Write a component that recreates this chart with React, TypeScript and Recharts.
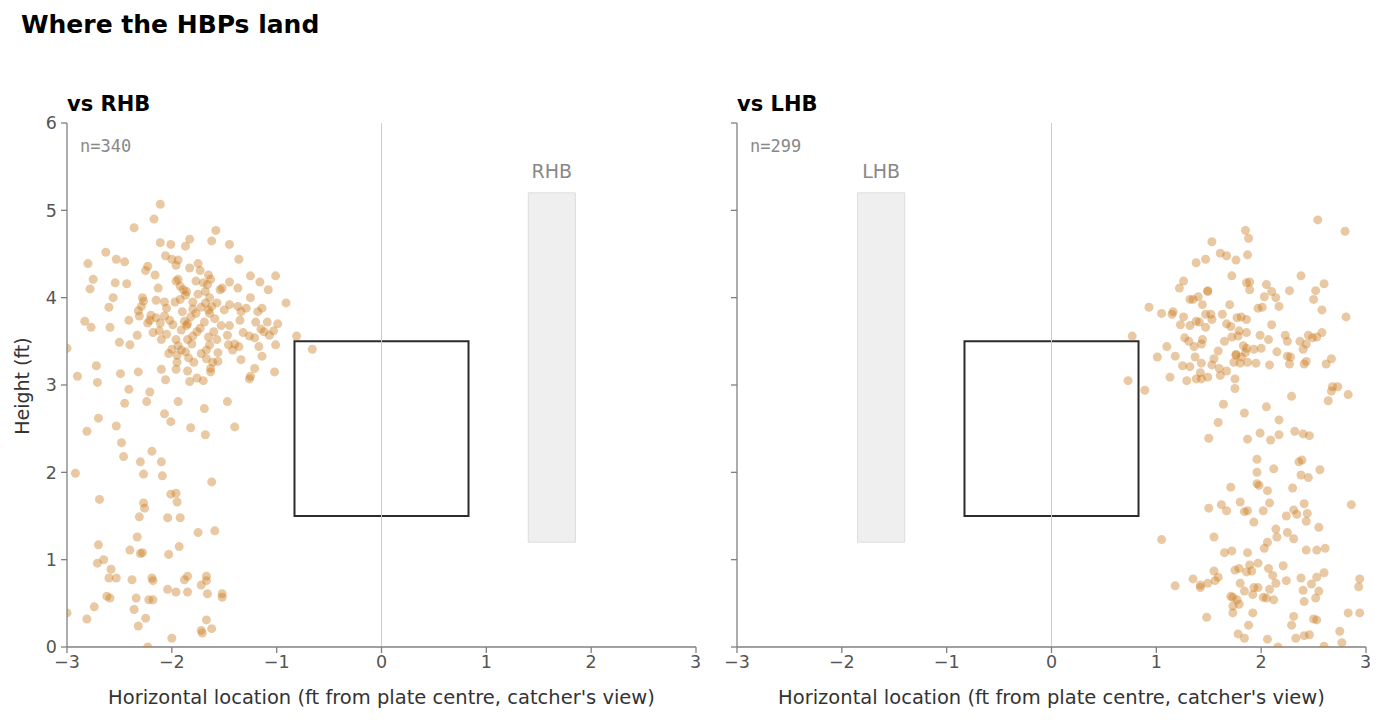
import { ScatterChart, Scatter, XAxis, YAxis, ReferenceArea, ReferenceLine } from "recharts"

const X_TICKS = [-3, -2, -1, 0, 1, 2, 3]
const Y_TICKS = [0, 1, 2, 3, 4, 5, 6]

// strike zone and batter's box (ft)
const ZONE_X = [-0.83, 0.83]
const ZONE_Y = [1.5, 3.5]
const BOX_Y = [1.2, 5.2]
const RHB_BOX_X = [1.4, 1.85]
const LHB_BOX_X = [-1.85, -1.4]

// [horizontal ft, height ft]
const RHB_POINTS: [number, number][] = [
  [-2.11, 5.07], [-2.17, 4.9], [-2.36, 4.8], [-1.58, 4.77], [-1.83, 4.67], [-2.11, 4.63], [-1.45, 4.61], [-1.62, 4.65], [-2.01, 4.61], [-1.87, 4.59],
  [-2.63, 4.52], [-2.06, 4.48], [-2.0, 4.44], [-1.94, 4.43], [-1.36, 4.44], [-2.53, 4.44], [-2.45, 4.41], [-2.23, 4.36], [-2.8, 4.39], [-1.96, 4.37],
  [-1.75, 4.39], [-1.83, 4.34], [-2.25, 4.31], [-2.16, 4.26], [-1.73, 4.31], [-1.65, 4.26], [-1.25, 4.25], [-1.01, 4.25], [-2.75, 4.21], [-1.94, 4.21],
  [-1.63, 4.21], [-1.77, 4.19], [-1.16, 4.18], [-1.45, 4.18], [-2.43, 4.16], [-2.54, 4.17], [-1.7, 4.17], [-1.96, 4.19], [-1.92, 4.13], [-1.66, 4.15],
  [-2.13, 4.11], [-1.52, 4.11], [-2.78, 4.1], [-1.89, 4.09], [-1.86, 4.07], [-1.54, 4.09], [-1.68, 4.07], [-1.87, 4.03], [-1.08, 4.09], [-1.37, 4.11],
  [-1.75, 4.04], [-1.25, 4.0], [-1.64, 4.0], [-2.28, 4.0], [-2.56, 4.0], [-2.15, 3.97], [-1.92, 3.98], [-0.91, 3.94], [-1.97, 3.95], [-2.27, 3.96],
  [-2.07, 3.95], [-1.8, 3.95], [-1.68, 3.94], [-1.57, 3.94], [-1.45, 3.92], [-1.37, 3.9], [-1.62, 3.9], [-2.6, 3.89], [-2.29, 3.9], [-1.72, 3.89],
  [-1.14, 3.88], [-2.05, 3.88], [-1.29, 3.88], [-1.8, 3.87], [-1.5, 3.86], [-1.65, 3.86], [-1.34, 3.84], [-1.18, 3.84], [-1.9, 3.84], [-2.2, 3.8],
  [-1.77, 3.82], [-1.64, 3.82], [-2.07, 3.79], [-2.31, 3.79], [-2.02, 3.74], [-2.15, 3.77], [-2.41, 3.74], [-1.82, 3.78], [-1.88, 3.73], [-1.59, 3.76],
  [-2.83, 3.73], [-1.35, 3.74], [-2.21, 3.74], [-0.99, 3.7], [-2.11, 3.71], [-1.2, 3.72], [-1.09, 3.72], [-1.69, 3.72], [-1.99, 3.69], [-1.85, 3.7],
  [-1.53, 3.68], [-1.45, 3.68], [-2.23, 3.71], [-2.77, 3.66], [-2.59, 3.66], [-1.73, 3.65], [-1.15, 3.64], [-1.91, 3.63], [-1.86, 3.68], [-1.12, 3.61],
  [-1.03, 3.62], [-2.12, 3.62], [-1.76, 3.61], [-1.6, 3.61], [-1.32, 3.6], [-2.05, 3.58], [-1.07, 3.57], [-1.26, 3.56], [-0.81, 3.56], [-1.47, 3.57],
  [-2.33, 3.57], [-1.8, 3.56], [-1.65, 3.55], [-2.1, 3.52], [-1.96, 3.52], [-1.21, 3.54], [-1.85, 3.52], [-1.57, 3.52], [-2.5, 3.49], [-1.81, 3.47],
  [-2.4, 3.46], [-1.64, 3.46], [-1.94, 3.45], [-1.46, 3.46], [-1.4, 3.47], [-2.0, 3.41], [-0.66, 3.41], [-3.0, 3.42], [-1.91, 3.4], [-1.67, 3.4],
  [-1.42, 3.4], [-1.01, 3.46], [-1.87, 3.38], [-1.95, 3.34], [-1.72, 3.36], [-2.03, 3.36], [-1.84, 3.31], [-1.67, 3.3], [-1.56, 3.27], [-1.79, 3.26],
  [-1.14, 3.33], [-1.61, 3.26], [-1.63, 3.19], [-2.1, 3.18], [-1.21, 3.19], [-1.85, 3.16], [-2.49, 3.13], [-2.9, 3.1], [-1.25, 3.1], [-2.32, 3.15],
  [-1.02, 3.15], [-1.26, 3.07], [-2.06, 3.06], [-1.83, 3.04], [-1.7, 3.05], [-2.71, 3.03], [-2.41, 2.95], [-1.47, 2.81], [-1.94, 2.81], [-2.45, 2.79],
  [-2.24, 2.81], [-1.69, 2.73], [-2.07, 2.67], [-2.7, 2.62], [-2.01, 2.58], [-2.53, 2.53], [-1.82, 2.51], [-2.81, 2.47], [-1.68, 2.43], [-1.4, 2.52],
  [-2.48, 2.34], [-2.46, 2.18], [-2.19, 2.24], [-2.1, 2.12], [-2.3, 2.12], [-2.09, 1.96], [-2.92, 1.99], [-2.27, 1.98], [-1.62, 1.89], [-2.69, 1.69],
  [-1.96, 1.76], [-2.01, 1.75], [-1.95, 1.66], [-2.27, 1.65], [-2.26, 1.59], [-2.31, 1.49], [-2.04, 1.48], [-1.92, 1.48], [-2.33, 1.26], [-1.93, 1.15],
  [-1.75, 1.31], [-1.59, 1.33], [-2.7, 1.17], [-2.28, 1.08], [-2.3, 1.07], [-2.03, 1.06], [-2.71, 0.96], [-2.65, 1.0], [-2.4, 1.11], [-2.58, 0.89],
  [-2.53, 0.79], [-2.6, 0.79], [-2.19, 0.79], [-2.18, 0.76], [-1.67, 0.81], [-1.67, 0.76], [-1.85, 0.81], [-1.88, 0.77], [-2.04, 0.66], [-1.96, 0.63],
  [-1.85, 0.63], [-1.72, 0.71], [-1.52, 0.61], [-1.52, 0.57], [-2.38, 0.77], [-2.62, 0.58], [-2.59, 0.56], [-2.34, 0.56], [-2.22, 0.54], [-2.18, 0.54],
  [-1.66, 0.61], [-2.36, 0.43], [-2.74, 0.46], [-3.0, 0.39], [-2.25, 0.33], [-2.81, 0.32], [-1.67, 0.31], [-2.32, 0.24], [-1.62, 0.21], [-1.72, 0.19],
  [-1.71, 0.16], [-2.0, 0.1], [-2.23, 0.0], [-1.34, 3.29], [-1.17, 3.44], [-1.36, 3.44], [-1.56, 3.37], [-1.63, 3.15], [-1.76, 3.08], [-2.32, 3.85],
  [-2.18, 3.6], [-2.72, 3.22], [-2.21, 2.92], [-1.96, 3.18], [-1.95, 3.26],
]

const LHB_POINTS: [number, number][] = [
  [2.54, 4.89], [1.85, 4.77], [2.8, 4.76], [1.88, 4.68], [1.53, 4.64], [1.61, 4.51], [1.67, 4.48], [1.87, 4.49], [1.47, 4.44], [1.76, 4.43],
  [1.38, 4.4], [1.72, 4.25], [2.38, 4.25], [1.26, 4.19], [1.86, 4.17], [1.89, 4.18], [2.6, 4.16], [2.05, 4.15], [1.22, 4.11], [1.49, 4.08],
  [1.49, 4.07], [1.89, 4.09], [2.1, 4.07], [2.27, 4.08], [2.52, 4.08], [2.03, 4.01], [1.4, 4.01], [1.32, 3.98], [1.35, 3.98], [2.14, 4.0],
  [2.5, 3.98], [1.7, 3.92], [1.44, 3.92], [0.93, 3.89], [2.17, 3.9], [1.97, 3.88], [2.01, 3.89], [1.05, 3.82], [1.15, 3.81], [1.16, 3.84],
  [2.58, 3.86], [1.26, 3.78], [1.52, 3.81], [1.47, 3.81], [1.63, 3.81], [1.77, 3.77], [1.81, 3.78], [1.86, 3.75], [1.53, 3.75], [1.38, 3.73],
  [1.41, 3.72], [2.81, 3.78], [1.23, 3.69], [1.67, 3.7], [1.32, 3.68], [1.71, 3.67], [2.1, 3.69], [1.47, 3.66], [0.77, 3.56], [1.27, 3.54],
  [1.31, 3.5], [1.44, 3.52], [1.43, 3.47], [1.36, 3.44], [1.1, 3.44], [1.65, 3.5], [1.72, 3.55], [1.78, 3.56], [1.86, 3.6], [1.79, 3.62],
  [1.99, 3.57], [2.07, 3.52], [2.23, 3.57], [2.25, 3.5], [2.37, 3.5], [2.45, 3.57], [2.43, 3.47], [2.49, 3.54], [2.53, 3.55], [2.58, 3.6],
  [2.4, 3.41], [1.83, 3.45], [1.86, 3.42], [1.93, 3.41], [2.0, 3.42], [2.15, 3.38], [1.59, 3.39], [1.85, 3.37], [1.76, 3.35], [1.76, 3.34],
  [2.25, 3.33], [2.28, 3.32], [1.18, 3.33], [1.01, 3.32], [1.37, 3.32], [1.55, 3.3], [1.81, 3.32], [2.67, 3.3], [1.74, 3.26], [1.43, 3.25],
  [1.53, 3.23], [1.87, 3.26], [1.95, 3.25], [1.8, 3.25], [2.08, 3.23], [2.27, 3.24], [2.41, 3.24], [2.43, 3.27], [2.62, 3.24], [1.25, 3.22],
  [1.32, 3.21], [1.6, 3.19], [1.67, 3.16], [1.42, 3.14], [1.61, 3.11], [1.13, 3.09], [1.38, 3.07], [1.43, 3.07], [1.49, 3.09], [1.29, 3.05],
  [1.75, 3.07], [0.73, 3.05], [1.75, 2.96], [0.89, 2.94], [2.68, 2.98], [2.73, 2.98], [2.67, 2.93], [2.83, 2.89], [2.29, 2.87], [2.64, 2.82],
  [1.64, 2.78], [2.05, 2.75], [1.84, 2.68], [2.17, 2.6], [1.59, 2.57], [1.99, 2.45], [2.17, 2.43], [2.32, 2.47], [2.4, 2.44], [2.46, 2.42],
  [1.5, 2.39], [1.87, 2.38], [2.09, 2.37], [1.96, 2.15], [2.36, 2.12], [2.39, 2.14], [1.96, 2.0], [2.12, 2.04], [2.38, 1.97], [2.45, 1.94],
  [2.56, 2.03], [1.71, 1.83], [1.96, 1.87], [1.98, 1.85], [2.06, 1.79], [2.3, 1.82], [1.8, 1.66], [2.08, 1.65], [2.41, 1.64], [2.86, 1.63],
  [1.5, 1.59], [1.62, 1.63], [1.67, 1.56], [1.84, 1.55], [1.87, 1.56], [2.02, 1.56], [2.31, 1.57], [2.34, 1.52], [2.24, 1.5], [2.44, 1.53],
  [1.93, 1.43], [2.43, 1.44], [1.05, 1.23], [1.55, 1.26], [2.14, 1.35], [2.15, 1.26], [2.25, 1.31], [2.31, 1.24], [2.55, 1.37], [2.06, 1.2],
  [1.65, 1.08], [1.72, 1.1], [1.87, 1.08], [2.03, 1.13], [2.43, 1.11], [2.53, 1.11], [2.61, 1.13], [1.89, 0.94], [1.97, 0.96], [1.75, 0.88],
  [1.79, 0.9], [1.86, 0.86], [1.91, 0.87], [2.07, 0.9], [2.21, 0.93], [1.55, 0.87], [1.59, 0.8], [1.56, 0.76], [1.35, 0.78], [1.42, 0.71],
  [1.42, 0.68], [1.49, 0.73], [1.18, 0.7], [2.11, 0.82], [2.14, 0.73], [2.24, 0.76], [2.38, 0.79], [2.53, 0.8], [2.6, 0.85], [2.94, 0.78],
  [2.93, 0.69], [1.8, 0.73], [1.84, 0.64], [1.93, 0.68], [1.97, 0.68], [2.08, 0.66], [1.92, 0.6], [2.02, 0.57], [2.05, 0.56], [2.12, 0.54],
  [1.71, 0.58], [1.73, 0.57], [2.4, 0.65], [2.48, 0.72], [2.55, 0.64], [2.52, 0.56], [2.41, 0.52], [1.77, 0.54], [1.79, 0.49], [1.73, 0.47],
  [1.73, 0.39], [1.92, 0.39], [2.31, 0.35], [1.48, 0.34], [2.83, 0.39], [2.94, 0.39], [2.5, 0.32], [2.53, 0.31], [1.88, 0.25], [2.29, 0.25],
  [2.75, 0.18], [1.78, 0.15], [1.84, 0.1], [2.06, 0.09], [2.33, 0.1], [2.41, 0.13], [2.46, 0.14], [2.77, 0.05], [2.6, 0.01], [2.16, 0.0],
]

const FONT = "'DejaVu Sans', sans-serif"
const AXIS_GREY = "#808080"
const DOT_COLOUR = "#c8781a"

const fmt = (v: number) => (v < 0 ? `\u2212${-v}` : `${v}`)

const Dot = (p: any) => (
  <circle cx={p.cx} cy={p.cy} r={4.5} fill={DOT_COLOUR} fillOpacity={0.4} />
)

function Panel({
  points,
  boxX,
  boxLabel,
  showYLabels,
}: {
  points: [number, number][]
  boxX: number[]
  boxLabel: string
  showYLabels: boolean
}) {
  const data = points.map(([x, y]) => ({ x, y }))
  return (
    <ScatterChart
      width={700}
      height={720}
      margin={{ top: 123, right: 4, bottom: 13, left: 17 }}
    >
      <XAxis
        type="number"
        dataKey="x"
        domain={[-3, 3]}
        ticks={X_TICKS}
        allowDataOverflow
        tickFormatter={fmt}
        height={60}
        axisLine={{ stroke: AXIS_GREY, strokeWidth: 1.3 }}
        tickLine={{ stroke: AXIS_GREY, strokeWidth: 1.3 }}
        tickSize={6}
        tickMargin={3}
        tick={{ fill: "#555", fontSize: 17.5, fontFamily: FONT }}
        label={{
          value: "Horizontal location (ft from plate centre, catcher's view)",
          position: "insideBottom",
          offset: 3,
          fill: "#333",
          fontSize: 19.5,
          fontFamily: FONT,
        }}
      />
      <YAxis
        type="number"
        dataKey="y"
        domain={[0, 6]}
        ticks={Y_TICKS}
        allowDataOverflow
        width={50}
        tickFormatter={showYLabels ? fmt : () => ""}
        axisLine={{ stroke: AXIS_GREY, strokeWidth: 1.3 }}
        tickLine={{ stroke: AXIS_GREY, strokeWidth: 1.3 }}
        tickSize={6}
        tickMargin={4}
        tick={{ fill: "#555", fontSize: 17.5, fontFamily: FONT }}
      />
      <ReferenceLine x={0} stroke="#cccccc" strokeWidth={1} />
      <ReferenceArea
        x1={boxX[0]}
        x2={boxX[1]}
        y1={BOX_Y[0]}
        y2={BOX_Y[1]}
        fill="#efefef"
        fillOpacity={1}
        stroke="#dddddd"
        label={{ value: boxLabel, position: "top", offset: 15, fill: "#888", fontSize: 19, fontFamily: FONT }}
      />
      <ReferenceArea
        x1={ZONE_X[0]}
        x2={ZONE_X[1]}
        y1={ZONE_Y[0]}
        y2={ZONE_Y[1]}
        fill="none"
        stroke="#2b2b2b"
        strokeWidth={2}
      />
      <Scatter data={data} shape={Dot} isAnimationActive={false} />
    </ScatterChart>
  )
}

export default function App() {
  return (
    <div
      style={{
        position: "absolute",
        left: 0,
        top: 0,
        width: 1386,
        height: 720,
        background: "#fff",
        fontFamily: FONT,
      }}
    >
      <div style={{ position: "absolute", left: 21, top: 10, fontSize: 25, fontWeight: "bold", color: "#000" }}>
        Where the HBPs land
      </div>
      <div style={{ position: "absolute", left: 0, top: 0 }}>
        <Panel points={RHB_POINTS} boxX={RHB_BOX_X} boxLabel="RHB" showYLabels />
      </div>
      <div style={{ position: "absolute", left: 670, top: 0 }}>
        <Panel points={LHB_POINTS} boxX={LHB_BOX_X} boxLabel="LHB" showYLabels={false} />
      </div>
      <div style={{ position: "absolute", left: 67, top: 92, fontSize: 21, fontWeight: "bold", color: "#000" }}>
        vs RHB
      </div>
      <div style={{ position: "absolute", left: 737, top: 92, fontSize: 21, fontWeight: "bold", color: "#000" }}>
        vs LHB
      </div>
      <div style={{ position: "absolute", left: 80, top: 136, fontSize: 17, color: "#888", fontFamily: "'DejaVu Sans Mono', monospace" }}>
        n=340
      </div>
      <div style={{ position: "absolute", left: 750, top: 136, fontSize: 17, color: "#888", fontFamily: "'DejaVu Sans Mono', monospace" }}>
        n=299
      </div>
      <div
        style={{
          position: "absolute",
          left: 22,
          top: 386,
          fontSize: 19,
          color: "#333",
          transform: "translate(-50%, -50%) rotate(-90deg)",
          whiteSpace: "nowrap",
        }}
      >
        Height (ft)
      </div>
    </div>
  )
}
